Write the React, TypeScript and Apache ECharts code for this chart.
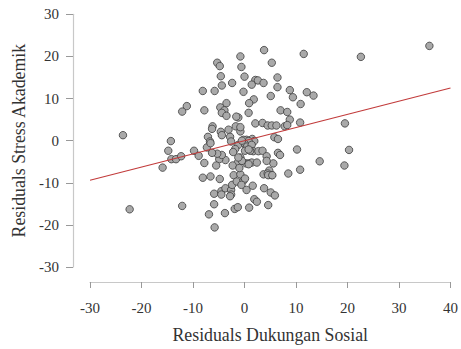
import React, { useEffect, useRef } from "react";
import * as echarts from "echarts";

const xTicks = [-30, -20, -10, 0, 10, 20, 30, 40];
const yTicks = [-30, -20, -10, 0, 10, 20, 30];

const xLabel = "Residuals Dukungan Sosial";
const yLabel = "Residuals Stress Akademik";

const residX = [
  -23.6, -22.3, -14.3, -14.8, -15.9, -14.2, -13.3, -12.3, -12.1, -11.2, -12.1,
  35.9, 22.6, 11.5, 20.3, 19.4, 19.5, 14.6, 10.8, 8.5,
  3.8, 5.3, -0.8, -0.6, 0.0, 2.1, 2.6, 3.7, 1.4, 6.4, 6.4, -0.2, 5.1, 8.8, 9.4,
  12.1, 13.4, 10.9, 1.8, 0.9, 0.8, -1.2, 7.0, 8.3, 8.8, 2.1, 3.5, 4.5, 5.3, 6.2,
  7.8, 8.3, 10.8, 5.8, 6.5,
  -5.3, -4.8, -4.6, -4.4, -2.4, -8.1, -5.8, -3.5, -4.7, -3.9, -7.8, -4.4, -3.5,
  -1.6, -6.2, -6.3, -4.6, -3.1, -1.7, -0.8, -4.4, -7.1, -6.7, -2.8, -2.6, 0.4,
  1.5, -0.8, 1.9, 1.1, -0.2, -1.2, 0.4, -1.8, 0.8, 0.1, -0.5, 0.5, 1.4,
  1.7, 2.7, 3.5, 4.3, 6.5, 6.9, 10.2, 5.6, 4.8, 3.7, 5.3, 4.5, 0.1, 1.1, 0.3,
  0.9, -0.8, -1.3, -2.3, -2.2, -3.7, -4.9, -4.4, -5.3, -6.3, -7.3, -6.6,
  -9.8, -8.9, -7.8, -8.1, -6.6, -5.5, -4.8, -5.9, -5.9, -6.9, -5.8, -3.8, -1.9,
  -1.3, 0.9, -4.5, -3.7, -2.6, -2.6, -2.4, -2.1, -0.8, -1.5, -0.2, 0.1, -0.6,
  0.4, 1.6, 1.9, 2.4, 3.8, 5.1, 5.9, 4.6, -0.5, 1.4, 2.4, 0.8, 4.3, -1.2,
  -4.5, -2.8, 4.6, 5.4, 0.8, -1.0,
];

const residY = [
  1.3, -16.3, -0.1, -2.4, -6.4, -4.4, -4.4, -3.7, -15.5, 8.2, 6.9,
  22.5, 19.9, 20.6, -2.2, -5.9, 4.1, -4.9, -6.9, -7.8,
  21.5, 18.5, 20.0, 17.5, 15.2, 14.4, 14.3, 13.7, 13.3, 15.0, 12.7, 11.6, 10.6,
  12.0, 10.3, 11.5, 10.7, 8.7, 9.8, 8.9, 6.6, 5.5, 7.2, 6.8, 5.0, 4.1, 4.2, 3.6,
  3.6, 3.6, 3.4, 3.7, 4.3, 0.8, 0.4,
  18.5, 17.7, 15.3, 13.1, 13.7, 11.8, 11.8, 8.9, 7.9, 7.2, 7.2, 6.6, 5.9, 5.7,
  3.4, 2.8, 2.1, 2.6, 3.4, 2.2, 1.3, 0.9, -0.2, 0.9, -0.2, 0.2, 0.4, 3.2, -0.1,
  -1.0, 0.2, -1.0, -1.7, -2.0, -0.1, -0.8, 0.0, -1.4, -1.0,
  -2.5, -2.5, -2.4, -3.7, -2.9, -3.4, -2.1, -5.4, -7.1, -8.0, -8.2, -7.8, -2.4,
  -2.4, -5.4, -5.4, -4.0, -5.2, -5.9, -2.7, -4.6, -4.4, -3.4, -3.1, -2.9, -1.6,
  -0.6, -2.4, -3.6, -5.3, -8.8, -8.5, -5.9, -9.1, -12.6, -15.1, -17.5, -20.6,
  -17.2, -16.2, -15.8, -15.9, -12.0, -11.3, -11.7, -12.8, -10.5, -8.2, -8.0,
  -9.7, -9.5, -9.0, -10.5, -11.7, -10.7, -13.9, -14.5, -11.3, -12.3, -13.0,
  -15.3, -4.8, -5.2, -5.2, -5.6, -4.8, -4.0, -12.8, -13.2, -8.2, -8.2, -2.1,
  -6.5,
];

const fitX = [-30, 40];
const fitY = [-9.4, 12.5];

export default function App() {
  const ref = useRef<HTMLDivElement>(null);
  useEffect(() => {
    if (!ref.current) return;
    const chart = echarts.init(ref.current, null, { renderer: "svg" });
    const n = Math.min(residX.length, residY.length);
    const pts: number[][] = [];
    for (let i = 0; i < n; i++) pts.push([residX[i], residY[i]]);
    const fit = fitX.map((x, i) => [x, fitY[i]]);
    const font = "'Liberation Serif', 'Times New Roman', serif";
    chart.setOption({
      animation: false,
      backgroundColor: "#ffffff",
      grid: { left: 90, right: 7.3, top: 14.3, bottom: 72.3 },
      xAxis: {
        type: "value",
        min: xTicks[0],
        max: xTicks[xTicks.length - 1],
        interval: 10,
        offset: 15,
        name: xLabel,
        nameLocation: "middle",
        nameGap: 44,
        nameTextStyle: { fontFamily: font, fontSize: 17.8, color: "#333" },
        axisLine: { show: true, onZero: false, lineStyle: { color: "#c8c8c8", width: 1.2 } },
        axisTick: { show: true, length: 6, lineStyle: { color: "#999", width: 1 } },
        axisLabel: { fontFamily: font, fontSize: 15, color: "#333", margin: 18 },
        splitLine: { show: false },
      },
      yAxis: {
        type: "value",
        min: yTicks[0],
        max: yTicks[yTicks.length - 1],
        interval: 10,
        offset: 17,
        name: yLabel,
        nameLocation: "middle",
        nameGap: 39,
        nameTextStyle: { fontFamily: font, fontSize: 17.8, color: "#333" },
        axisLine: { show: true, onZero: false, lineStyle: { color: "#c8c8c8", width: 1.2 } },
        axisTick: { show: true, length: 7, lineStyle: { color: "#999", width: 1 } },
        axisLabel: { fontFamily: font, fontSize: 15, color: "#333", margin: 14 },
        splitLine: { show: false },
      },
      series: [
        {
          type: "scatter",
          data: pts,
          symbol: "circle",
          symbolSize: 7.5,
          itemStyle: { color: "#a9a9a9", borderColor: "#3c3c3c", borderWidth: 0.8, opacity: 1 },
          z: 2,
        },
        {
          type: "line",
          data: fit,
          symbol: "none",
          lineStyle: { color: "#c23b3b", width: 1.2 },
          z: 3,
        },
      ],
    });
    return () => chart.dispose();
  }, []);
  return (
    <div
      ref={ref}
      style={{ position: "fixed", left: 0, top: 0, width: 461, height: 349 }}
    />
  );
}
